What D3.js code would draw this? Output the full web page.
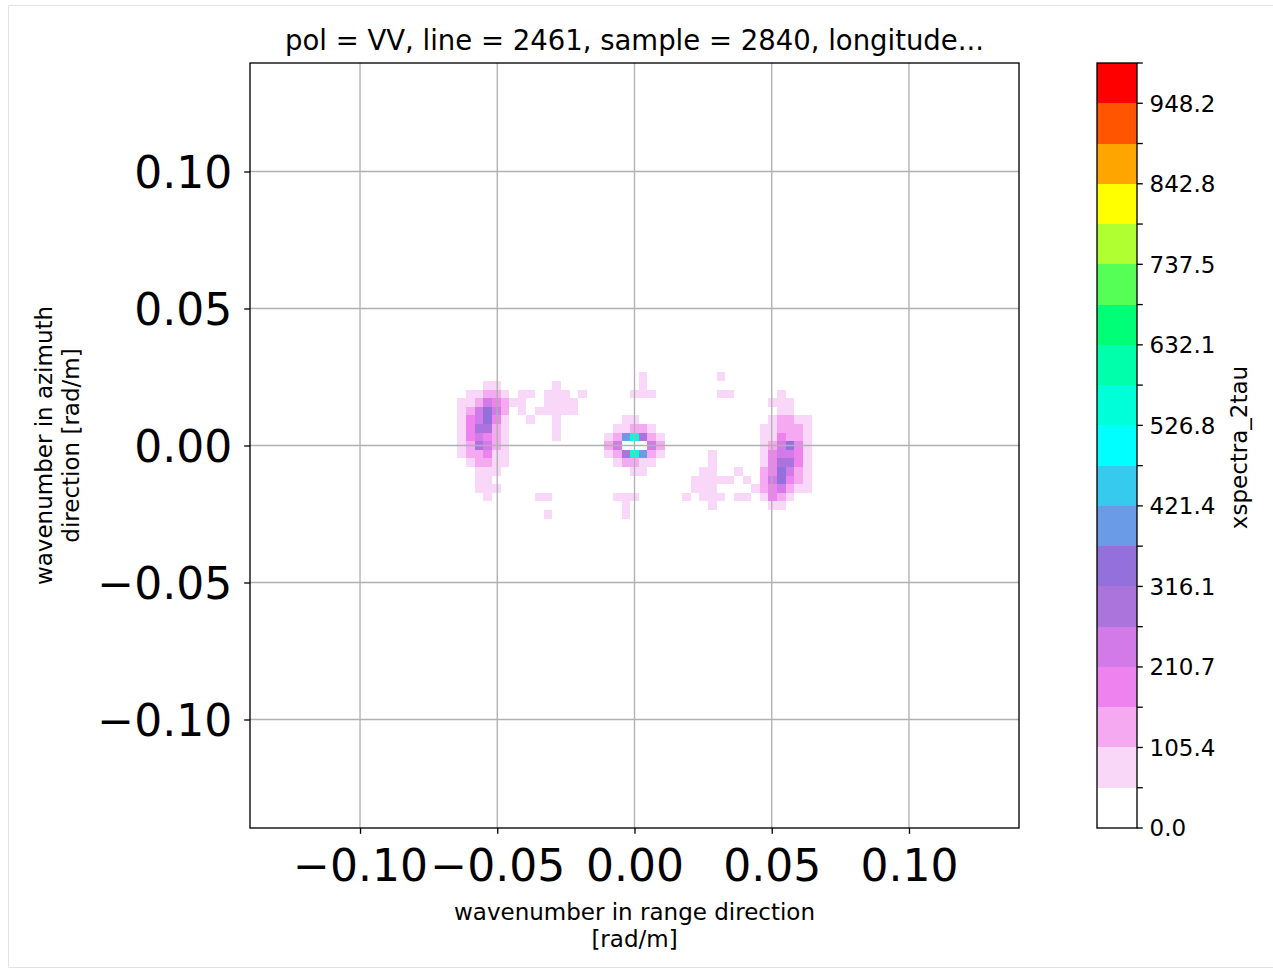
<!DOCTYPE html>
<html>
<head>
<meta charset="utf-8">
<script src="https://cdn.jsdelivr.net/npm/d3@7"></script>
<style>
  body { margin: 0; background: #fff; }
  text { font-family: "DejaVu Sans", sans-serif; fill: #000; }
</style>
</head>
<body>
<svg id="chart" width="1273" height="972"></svg>
<script>
const title = "pol = VV, line = 2461, sample = 2840, longitude...";
const xLabel = ["wavenumber in range direction", "[rad/m]"];
const yLabel = ["wavenumber in azimuth", "direction [rad/m]"];
const cbarLabel = "xspectra_2tau";

const xTicks = [-0.1, -0.05, 0, 0.05, 0.1];
const yTicks = [-0.1, -0.05, 0, 0.05, 0.1];
const cbarTickLabels = ["0.0", "105.4", "210.7", "316.1", "421.4", "526.8", "632.1", "737.5", "842.8", "948.2"];

// discrete colour levels, bottom to top
const levelColors = [
  "#ffffff", "#f8d7f8", "#f4a9f1", "#ee82ee", "#d27be8", "#ab74dd", "#9370db",
  "#6a9be6", "#36cbee", "#00ffff", "#00ffd8", "#00ffaa", "#00ff77", "#55ff55",
  "#b0ff30", "#ffff00", "#ffa500", "#ff5500", "#ff0000"
];
const levelStep = 52.677;

// wavenumber spacing of the spectrum grid
const dkRange = 0.003148;
const dkAzimuth = 0.003137;
const nHalf = 44;

// [azimuth index, first range index, values...] ; cells not listed are ~0
const spectrumRows = [
  [8, 1, [80]],
  [8, 10, [80]],
  [7, -17, [80, 80]],
  [7, -9, [80]],
  [7, 1, [80]],
  [6, -19, [80, 80, 130, 130, 80]],
  [6, -13, [80, 80]],
  [6, -10, [80, 80, 80]],
  [6, -6, [80]],
  [6, 0, [80, 80, 80]],
  [6, 10, [80, 80]],
  [6, 17, [80]],
  [5, -20, [80, 80, 130, 240, 185, 130, 80, 80]],
  [5, -10, [80, 80, 80, 80]],
  [5, 16, [80, 80, 80]],
  [4, -20, [80, 130, 240, 345, 240, 130]],
  [4, -13, [80]],
  [4, -11, [80, 80, 80, 80, 80]],
  [4, 17, [80, 80]],
  [3, -20, [80, 185, 240, 345, 185, 80]],
  [3, -12, [80]],
  [3, -9, [80]],
  [3, -1, [80, 80]],
  [3, 16, [80, 130, 130, 80, 80]],
  [2, -20, [80, 185, 290, 290, 130, 80]],
  [2, -9, [80]],
  [2, -2, [80, 80, 130, 130, 80]],
  [2, 15, [80, 80, 130, 130, 130, 80]],
  [1, -20, [80, 185, 240, 185, 130, 80]],
  [1, -9, [80]],
  [1, -3, [80, 130, 395, 550, 290, 130, 80]],
  [1, 15, [80, 80, 185, 130, 130, 80]],
  [0, -20, [80, 130, 290, 240, 130, 80]],
  [0, -3, [130, 240, 0, 0, 0, 240, 130]],
  [0, 15, [80, 130, 240, 345, 185, 80]],
  [-1, -20, [80, 130, 130, 185, 80, 80]],
  [-1, -3, [80, 130, 290, 550, 395, 130, 80]],
  [-1, 9, [80]],
  [-1, 15, [80, 185, 240, 240, 185, 80]],
  [-2, -19, [80, 130, 130, 80, 80]],
  [-2, -2, [80, 130, 130, 80, 80]],
  [-2, 9, [80]],
  [-2, 15, [80, 185, 290, 290, 185, 80]],
  [-3, -18, [80, 80, 80]],
  [-3, 0, [80, 80]],
  [-3, 8, [80, 80]],
  [-3, 12, [80]],
  [-3, 15, [130, 185, 345, 240, 130, 80]],
  [-4, -18, [80, 80]],
  [-4, 7, [80, 80, 80, 80, 80]],
  [-4, 13, [80]],
  [-4, 15, [130, 240, 345, 185, 130, 80]],
  [-5, -18, [80, 80, 80]],
  [-5, 7, [80, 80, 80]],
  [-5, 14, [80, 130, 185, 240, 130, 80, 80]],
  [-6, -17, [80]],
  [-6, -11, [80, 80]],
  [-6, -2, [80, 80, 80]],
  [-6, 6, [80]],
  [-6, 8, [80, 80, 80]],
  [-6, 12, [80, 80]],
  [-6, 15, [80, 185, 130, 80]],
  [-7, -1, [80]],
  [-7, 9, [80]],
  [-7, 16, [80, 80]],
  [-8, -10, [80]],
  [-8, -1, [80]]
];

const svg = d3.select("#chart");
const plot = { left: 250, right: 1019, top: 63, bottom: 828 };
const cbar = { left: 1097, right: 1137, top: 63, bottom: 828 };
const lw = 1.33;

// notebook output frame
svg.append("path")
  .attr("d", "M1273,5.5H8.5V967.5H1273")
  .attr("fill", "none")
  .attr("stroke", "#e3e3e3")
  .attr("stroke-width", 1);

const xMax = (nHalf + 0.5) * dkRange;
const yMax = (nHalf + 0.5) * dkAzimuth;
const x = d3.scaleLinear().domain([-xMax, xMax]).range([plot.left, plot.right]);
const y = d3.scaleLinear().domain([-yMax, yMax]).range([plot.bottom, plot.top]);

const levels = d3.range(levelColors.length + 1).map(k => k * levelStep);
const color = d3.scaleThreshold().domain(levels.slice(1, -1)).range(levelColors);

// flatten the rows into cells
const cells = [];
spectrumRows.forEach(([j, i0, vals]) => {
  vals.forEach((v, n) => cells.push({ kx: (i0 + n) * dkRange, ky: j * dkAzimuth, v }));
});

svg.append("g")
  .attr("shape-rendering", "crispEdges")
  .selectAll("rect")
  .data(cells)
  .join("rect")
  .attr("x", d => x(d.kx - dkRange / 2))
  .attr("y", d => y(d.ky + dkAzimuth / 2))
  .attr("width", d => x(d.kx + dkRange / 2) - x(d.kx - dkRange / 2))
  .attr("height", d => y(d.ky - dkAzimuth / 2) - y(d.ky + dkAzimuth / 2))
  .attr("fill", d => color(d.v));

// grid
const grid = svg.append("g").attr("stroke", "#b0b0b0").attr("stroke-width", lw);
grid.selectAll("line.gx").data(xTicks).join("line")
  .attr("x1", d => x(d)).attr("x2", d => x(d))
  .attr("y1", plot.top).attr("y2", plot.bottom);
grid.selectAll("line.gy").data(yTicks).join("line")
  .attr("y1", d => y(d)).attr("y2", d => y(d))
  .attr("x1", plot.left).attr("x2", plot.right);

// axes
const fmt = d3.format(".2f");
const xAxis = svg.append("g")
  .attr("transform", `translate(0,${plot.bottom})`)
  .call(d3.axisBottom(x).tickValues(xTicks).tickSize(5.8).tickPadding(16).tickFormat(fmt));
const yAxis = svg.append("g")
  .attr("transform", `translate(${plot.left},0)`)
  .call(d3.axisLeft(y).tickValues(yTicks).tickSize(5.8).tickPadding(12).tickFormat(fmt));
[xAxis, yAxis].forEach(g => {
  g.select(".domain").remove();
  g.selectAll(".tick line").attr("stroke", "#000").attr("stroke-width", lw);
  g.selectAll(".tick text").attr("font-size", 44).attr("font-family", "DejaVu Sans").attr("fill", "#000");
});
yAxis.selectAll(".tick text").attr("dy", "0.36em");

svg.append("rect")
  .attr("x", plot.left).attr("y", plot.top)
  .attr("width", plot.right - plot.left).attr("height", plot.bottom - plot.top)
  .attr("fill", "none").attr("stroke", "#000").attr("stroke-width", lw);

// title and labels
const cx = (plot.left + plot.right) / 2;
svg.append("text")
  .attr("x", cx).attr("y", 50)
  .attr("text-anchor", "middle").attr("font-size", 27.5)
  .text(title);

svg.append("text")
  .attr("text-anchor", "middle").attr("font-size", 23)
  .selectAll("tspan").data(xLabel).join("tspan")
  .attr("x", cx).attr("y", (d, i) => 920 + i * 26.5)
  .text(d => d);

svg.append("text")
  .attr("transform", `translate(0,${(plot.top + plot.bottom) / 2}) rotate(-90)`)
  .attr("text-anchor", "middle").attr("font-size", 23)
  .selectAll("tspan").data(yLabel).join("tspan")
  .attr("x", 0).attr("y", (d, i) => 52 + i * 26.5)
  .text(d => d);

// colorbar
const cy = d3.scaleLinear().domain([0, levels[levels.length - 1]]).range([cbar.bottom, cbar.top]);
const cb = svg.append("g");
cb.append("g")
  .attr("shape-rendering", "crispEdges")
  .selectAll("rect")
  .data(levelColors)
  .join("rect")
  .attr("x", cbar.left)
  .attr("width", cbar.right - cbar.left)
  .attr("y", (d, k) => cy(levels[k + 1]))
  .attr("height", (d, k) => cy(levels[k]) - cy(levels[k + 1]))
  .attr("fill", d => d);

cb.append("rect")
  .attr("x", cbar.left).attr("y", cbar.top)
  .attr("width", cbar.right - cbar.left).attr("height", cbar.bottom - cbar.top)
  .attr("fill", "none").attr("stroke", "#000").attr("stroke-width", lw);

cb.selectAll("line.tick").data(levels).join("line")
  .attr("x1", cbar.right).attr("x2", cbar.right + 5.8)
  .attr("y1", d => cy(d)).attr("y2", d => cy(d))
  .attr("stroke", "#000").attr("stroke-width", lw);

cb.selectAll("text.tl").data(cbarTickLabels).join("text")
  .attr("x", cbar.right + 12.5)
  .attr("y", d => cy(+d))
  .attr("dy", "0.36em")
  .attr("font-size", 23)
  .text(d => d);

svg.append("text")
  .attr("transform", `translate(1247,${(cbar.top + cbar.bottom) / 2 + 2}) rotate(-90)`)
  .attr("text-anchor", "middle").attr("font-size", 23)
  .text(cbarLabel);
</script>
</body>
</html>
